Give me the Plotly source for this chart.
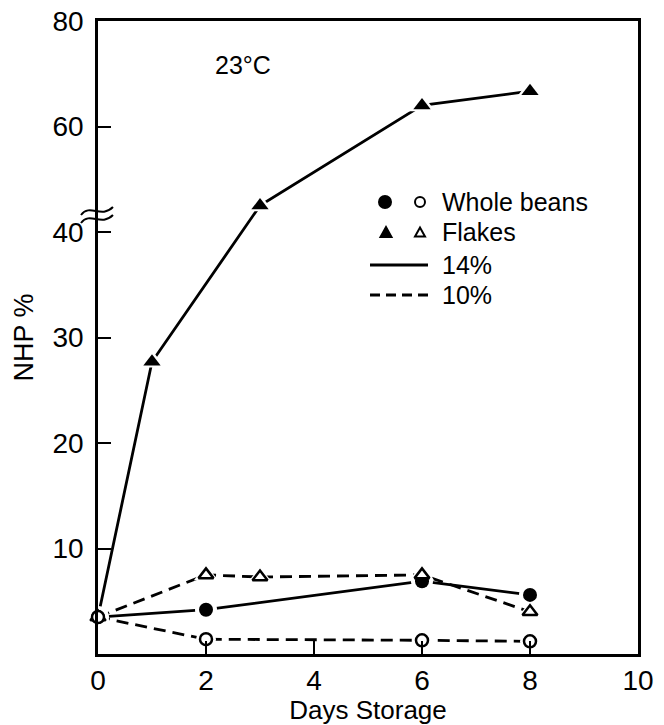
import plotly.graph_objects as go

# ---------------- data ----------------
days_wb = [0, 2, 6, 8]
whole_beans_14 = [3.5, 4.2, 6.9, 5.6]
whole_beans_10 = [3.5, 1.4, 1.3, 1.2]
days_fl14 = [0, 1, 3, 6, 8]
flakes_14 = [3.5, 27.7, 45.0, 64.0, 66.7]
days_fl10 = [0, 2, 3, 6, 8]
flakes_10 = [3.5, 7.5, 7.3, 7.5, 4.0]

y_tick_values = [10, 20, 30, 40, 60, 80]
x_tick_values = [0, 2, 4, 6, 8, 10]

BREAK = 40.0
UPPER_SCALE = 0.5  # axis above 40 is compressed


def brk(v):
    return v if v <= BREAK else BREAK + (v - BREAK) * UPPER_SCALE


def tr(vals):
    return [brk(v) for v in vals]


FONT = "Liberation Sans, Arial, sans-serif"
DASH = "12px,7px"
LW = 2.8

series = [
    # x, y, dash, symbol, fill, size
    (days_fl14, flakes_14, "solid", "triangle-up", "black", 15),
    (days_wb, whole_beans_14, "solid", "circle", "black", 14),
    (days_fl10, flakes_10, DASH, "triangle-up", "white", 13),
    (days_wb, whole_beans_10, DASH, "circle", "white", 12),
]

fig = go.Figure()

# lines
for x, y, dash, sym, fill, size in series:
    fig.add_trace(go.Scatter(x=x, y=tr(y), mode="lines",
                             line=dict(color="black", width=LW, dash=dash),
                             cliponaxis=False, showlegend=False, hoverinfo="skip"))
# white halos to create gaps between lines and markers
for x, y, dash, sym, fill, size in series:
    fig.add_trace(go.Scatter(x=x, y=tr(y), mode="markers",
                             marker=dict(symbol=sym, color="white", size=size + 8,
                                         line=dict(width=0)),
                             cliponaxis=False, showlegend=False, hoverinfo="skip"))
# markers
for x, y, dash, sym, fill, size in series:
    fig.add_trace(go.Scatter(x=x, y=tr(y), mode="markers",
                             marker=dict(symbol=sym, color=fill, size=size,
                                         line=dict(color="black", width=2.5 if fill == "white" else 0)),
                             cliponaxis=False, showlegend=False))

# ---------------- layout ----------------
FIG_W, FIG_H = 664, 725
L, T, W, H = 98, 21, 540, 633


def xp(px):
    return (px - L) / W


def yp(py):
    return (T + H - py) / H


shapes = []
# y-axis break marks
for dy in (0, 8):
    pts = [(81, 215 + dy), (90, 203 + dy), (101, 219 + dy), (113, 207 + dy)]
    p = "M {},{} C {},{} {},{} {},{}".format(
        xp(pts[0][0]), yp(pts[0][1]), xp(pts[1][0]), yp(pts[1][1]),
        xp(pts[2][0]), yp(pts[2][1]), xp(pts[3][0]), yp(pts[3][1]))
    shapes.append(dict(type="path", path=p, xref="paper", yref="paper",
                       line=dict(color="black", width=2)))


def circle_shape(cx, cy, r, filled):
    return dict(type="circle", xref="paper", yref="paper",
                x0=xp(cx - r), x1=xp(cx + r), y0=yp(cy + r), y1=yp(cy - r),
                fillcolor="black" if filled else "white",
                line=dict(color="black", width=2))


def tri_shape(cx, cy, s, filled):
    h = s * 0.9
    p = "M {},{} L {},{} L {},{} Z".format(
        xp(cx - s / 2), yp(cy + h / 2), xp(cx + s / 2), yp(cy + h / 2),
        xp(cx), yp(cy - h / 2))
    return dict(type="path", path=p, xref="paper", yref="paper",
                fillcolor="black" if filled else "white",
                line=dict(color="black", width=2))


shapes.append(circle_shape(385, 202, 6, True))
shapes.append(circle_shape(420, 202, 5, False))
shapes.append(tri_shape(386, 232, 11, True))
shapes.append(tri_shape(420, 232, 10, False))
shapes.append(dict(type="line", xref="paper", yref="paper",
                   x0=xp(370), x1=xp(428), y0=yp(265), y1=yp(265),
                   line=dict(color="black", width=LW)))
shapes.append(dict(type="line", xref="paper", yref="paper",
                   x0=xp(370), x1=xp(428), y0=yp(295), y1=yp(295),
                   line=dict(color="black", width=LW, dash="10px,6px")))

annotations = []
for txt, py in [("Whole beans", 202), ("Flakes", 232), ("14%", 265), ("10%", 295)]:
    annotations.append(dict(text=txt, x=xp(440), y=yp(py), xref="paper", yref="paper",
                            xanchor="left", yanchor="middle", showarrow=False,
                            font=dict(family=FONT, size=25, color="black")))
annotations.append(dict(text="23°C", x=xp(243), y=yp(65), xref="paper", yref="paper",
                        xanchor="center", yanchor="middle", showarrow=False,
                        font=dict(family=FONT, size=25, color="black")))

fig.update_layout(
    width=FIG_W, height=FIG_H,
    margin=dict(l=L, r=FIG_W - L - W, t=T, b=FIG_H - T - H),
    paper_bgcolor="white", plot_bgcolor="white",
    font=dict(family=FONT, size=26, color="black"),
    shapes=shapes, annotations=annotations,
    showlegend=False,
)
fig.update_xaxes(
    range=[0, 10], tickvals=x_tick_values, ticktext=[str(v) for v in x_tick_values],
    ticks="inside", ticklen=13, tickwidth=2, tickcolor="black",
    showline=True, linecolor="black", linewidth=2.5, mirror=True,
    showgrid=False, zeroline=False, automargin=False,
    tickfont=dict(size=28), ticklabeloverflow="allow",
    title=dict(text="Days Storage", font=dict(size=26), standoff=0),
)
fig.update_yaxes(
    range=[0, brk(80)], tickvals=[brk(v) for v in y_tick_values],
    ticktext=[str(v) for v in y_tick_values],
    ticks="inside", ticklen=13, tickwidth=2, tickcolor="black",
    showline=True, linecolor="black", linewidth=2.5, mirror=True,
    showgrid=False, zeroline=False, automargin=False,
    tickfont=dict(size=28), ticklabelstandoff=6, ticklabeloverflow="allow",
    title=dict(text="NHP %", font=dict(size=27), standoff=12),
)

fig.write_html("out.html",
               config={"displayModeBar": False},
               post_script="document.body.style.margin='0';document.body.style.overflow='hidden';")
